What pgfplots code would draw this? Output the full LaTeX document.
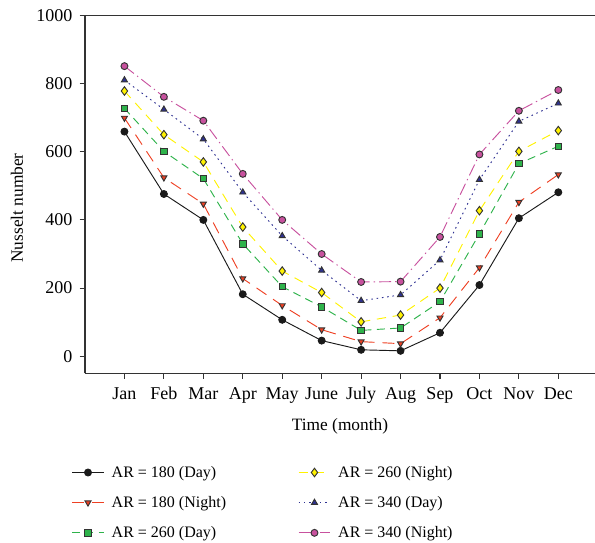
\documentclass[border=0pt]{standalone}
\usepackage{pgfplots}
\pgfplotsset{compat=1.18}
\usepackage{fontspec}
\setmainfont{Liberation Serif}

\definecolor{cBlack}{HTML}{1A1A1A}
\definecolor{cRed}{HTML}{EE4023}
\definecolor{cGreen}{HTML}{2EB34B}
\definecolor{cYellow}{HTML}{FFF200}
\definecolor{cBlue}{HTML}{2E3192}
\definecolor{cMag}{HTML}{C8519E}
\definecolor{cEdge}{HTML}{333333}

\begin{document}
\begin{tikzpicture}
\begin{axis}[
    scale only axis,
    width=382.5pt, height=268.5pt,
    xmin=0, xmax=12.93,
    ymin=-50, ymax=1000,
    axis x line*=bottom,
    axis y line*=left,
    axis line style={draw=cEdge, line width=0.8pt, -},
    tick align=outside,
    tick style={draw=cEdge, line width=0.8pt},
    major tick length=4pt,
    xtick={1,...,12},
    xticklabels={Jan,Feb,Mar,Apr,May,June,July,Aug,Sep,Oct,Nov,Dec},
    ytick={0,200,400,600,800,1000},
    /pgf/number format/assume math mode=true,
    /pgf/number format/1000 sep={},
    ticklabel style={font=\fontsize{13.5}{15}\selectfont},
    xticklabel style={yshift=-3pt},
    yticklabel style={xshift=-2pt},
    xlabel={Time (month)},
    ylabel={Nusselt number},
    label style={font=\fontsize{13}{15}\selectfont},
    xlabel style={yshift=-4pt},
    every axis y label/.style={at={(rel axis cs:0,0.462)}, xshift=-51pt, rotate=90, anchor=center,
        font=\fontsize{13}{15}\selectfont},
    mark size=2.6pt,
    every axis plot/.append style={line width=0.7pt},
    legend columns=2,
    legend cell align=left,
    legend image code/.code={
        \draw[mark repeat=2,mark phase=2] plot coordinates {(0cm,0cm) (0.42cm,0cm) (0.84cm,0cm)};
    },
    legend style={draw=none, fill=none, inner sep=0pt,
        at={(rel axis cs:-0.0268,-0.2505)}, anchor=north west,
        font=\fontsize{12}{14}\selectfont,
        row sep=8.8pt,
        /tikz/every odd column/.append style={column sep=3.5pt},
        /tikz/every even column/.append style={column sep=52pt}},
    extra description/.code={
        \draw[cEdge, line width=0.8pt] (rel axis cs:0,1) -- (rel axis cs:1,1);
        \coordinate (BL) at (rel axis cs:0,0);
        \coordinate (TR) at (rel axis cs:1,1);
    },
]
% AR = 180 (Day)
\addplot[cBlack, solid, mark=*, mark options={fill=cBlack, draw=cBlack, solid}]
coordinates {(1,659) (2,476) (3,400) (4,182) (5,107) (6,46) (7,19) (8,16) (9,69) (10,209) (11,405) (12,481)};
\addlegendentry{AR = 180 (Day)}
% AR = 260 (Night)
\addplot[cYellow, dash pattern=on 7pt off 5pt, mark=diamond*, mark size=3.2pt, mark options={fill=cYellow, draw=cEdge, solid}]
coordinates {(1,778) (2,650) (3,570) (4,379) (5,250) (6,187) (7,101) (8,121) (9,200) (10,427) (11,601) (12,662)};
\addlegendentry{AR = 260 (Night)}
% AR = 180 (Night)
\addplot[cRed, dash pattern=on 9pt off 6pt, mark=triangle*, mark options={rotate=180, fill=cRed, draw=cEdge, solid}]
coordinates {(1,699) (2,524) (3,447) (4,228) (5,149) (6,78) (7,43) (8,37) (9,113) (10,260) (11,452) (12,533)};
\addlegendentry{AR = 180 (Night)}
% AR = 340 (Day)
\addplot[cBlue, dash pattern=on 1.2pt off 2.8pt, mark=triangle*, mark options={fill=cBlue, draw=cEdge, solid}]
coordinates {(1,810) (2,724) (3,637) (4,481) (5,353) (6,252) (7,163) (8,180) (9,282) (10,518) (11,689) (12,742)};
\addlegendentry{AR = 340 (Day)}
% AR = 260 (Day)
\addplot[cGreen, dash pattern=on 6pt off 4pt, mark=square*, mark size=2.4pt, mark options={fill=cGreen, draw=cEdge, solid}]
coordinates {(1,727) (2,601) (3,521) (4,330) (5,204) (6,145) (7,76) (8,83) (9,160) (10,359) (11,565) (12,616)};
\addlegendentry{AR = 260 (Day)}
% AR = 340 (Night)
\addplot[cMag, dash pattern=on 9pt off 3pt on 1pt off 3pt, mark=*, mark options={fill=cMag, draw=cEdge, solid}]
coordinates {(1,851) (2,761) (3,691) (4,535) (5,400) (6,300) (7,218) (8,219) (9,350) (10,592) (11,720) (12,781)};
\addlegendentry{AR = 340 (Night)}
\end{axis}
\pgfresetboundingbox
\path[use as bounding box] ([shift={(-63.75pt,-126.5pt)}]BL) rectangle ([shift={(0pt,11.5pt)}]TR);
\end{tikzpicture}
\end{document}
